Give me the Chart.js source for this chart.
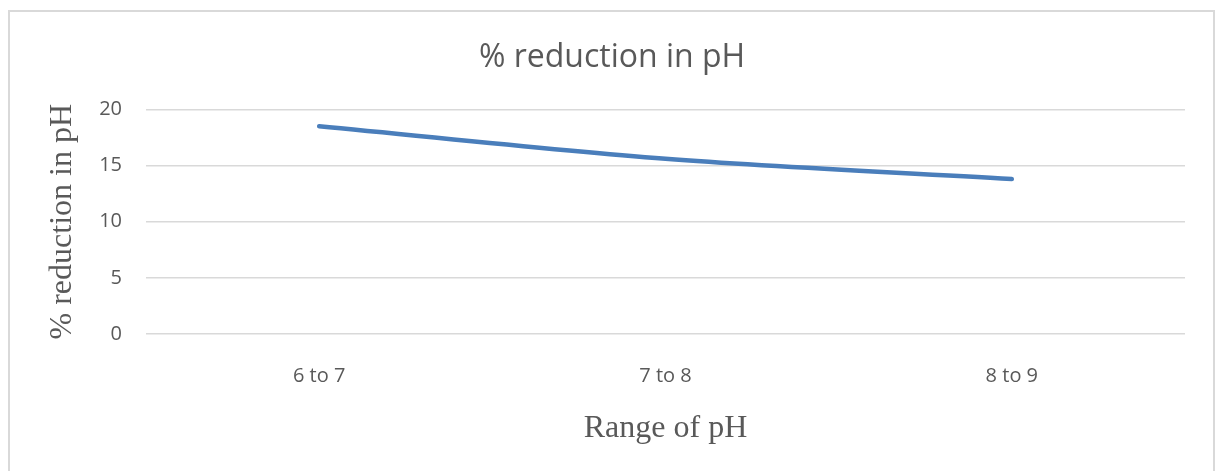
<!DOCTYPE html>
<html>
<head>
<meta charset="utf-8">
<script src="https://cdn.jsdelivr.net/npm/chart.js"></script>
<style>
  html, body { margin: 0; padding: 0; background: #fff; }
  #frame {
    position: absolute; left: 8px; top: 10px; width: 1207px; height: 470px;
    border: 2px solid #d9d9d9; border-bottom: none; box-sizing: border-box;
  }
  #wrap { position: absolute; left: 0; top: 0; width: 1216px; height: 471px; }
</style>
</head>
<body>
<div id="frame"></div>
<div id="wrap"><canvas id="myChart" width="1216" height="471"></canvas></div>
<script>
// data
const categories = ["6 to 7", "7 to 8", "8 to 9"];
const reduction = [18.5, 15.6, 13.8];
const yTicks = [0, 5, 10, 15, 20];

const drawChart = () => {
  var ctx = document.getElementById("myChart").getContext("2d");
  var chart = new Chart(ctx, {
    type: "line",
    data: {
      labels: [...categories],
      datasets: [
        {
          label: "% reduction in pH",
          borderColor: "rgb(74, 126, 187)",
          backgroundColor: "rgb(74, 126, 187)",
          borderWidth: 4.5,
          borderCapStyle: "round",
          pointRadius: 0,
          cubicInterpolationMode: "monotone",
          data: [...reduction],
        },
      ],
    },
    options: {
      responsive: false,
      animation: false,
      layout: { padding: { left: 39, right: 31, top: 30, bottom: 21 } },
      plugins: {
        legend: { display: false },
        tooltip: { enabled: false },
        title: {
          display: true,
          text: "% reduction in pH",
          color: "#595959",
          font: { family: "Open Sans", size: 32, weight: "normal" },
          padding: { top: 9, bottom: 32 },
        },
      },
      scales: {
        x: {
          offset: true,
          afterFit: (axis) => { axis.height = 116; },
          grid: { display: false, drawTicks: false },
          border: { display: false },
          ticks: {
            color: "#595959",
            font: { family: "Open Sans", size: 20 },
            padding: 30,
          },
          title: {
            display: true,
            text: "Range of pH",
            color: "#595959",
            font: { family: "Liberation Serif", size: 32 },
            padding: { top: 20, bottom: 2 },
          },
        },
        y: {
          min: 0,
          max: 20,
          afterBuildTicks: (axis) => { axis.ticks = yTicks.map((v) => ({ value: v })); },
          afterFit: (axis) => { axis.width = 107; },
          grid: { color: "#d9d9d9", lineWidth: 1.5, drawTicks: false },
          border: { display: false },
          ticks: {
            color: "#595959",
            font: { family: "Open Sans", size: 20 },
            padding: 24,
          },
          title: {
            display: true,
            text: "% reduction in pH",
            color: "#595959",
            font: { family: "Liberation Serif", size: 32 },
            padding: { top: 4, bottom: 8 },
          },
        },
      },
    },
  });
};
drawChart();
</script>
</body>
</html>
